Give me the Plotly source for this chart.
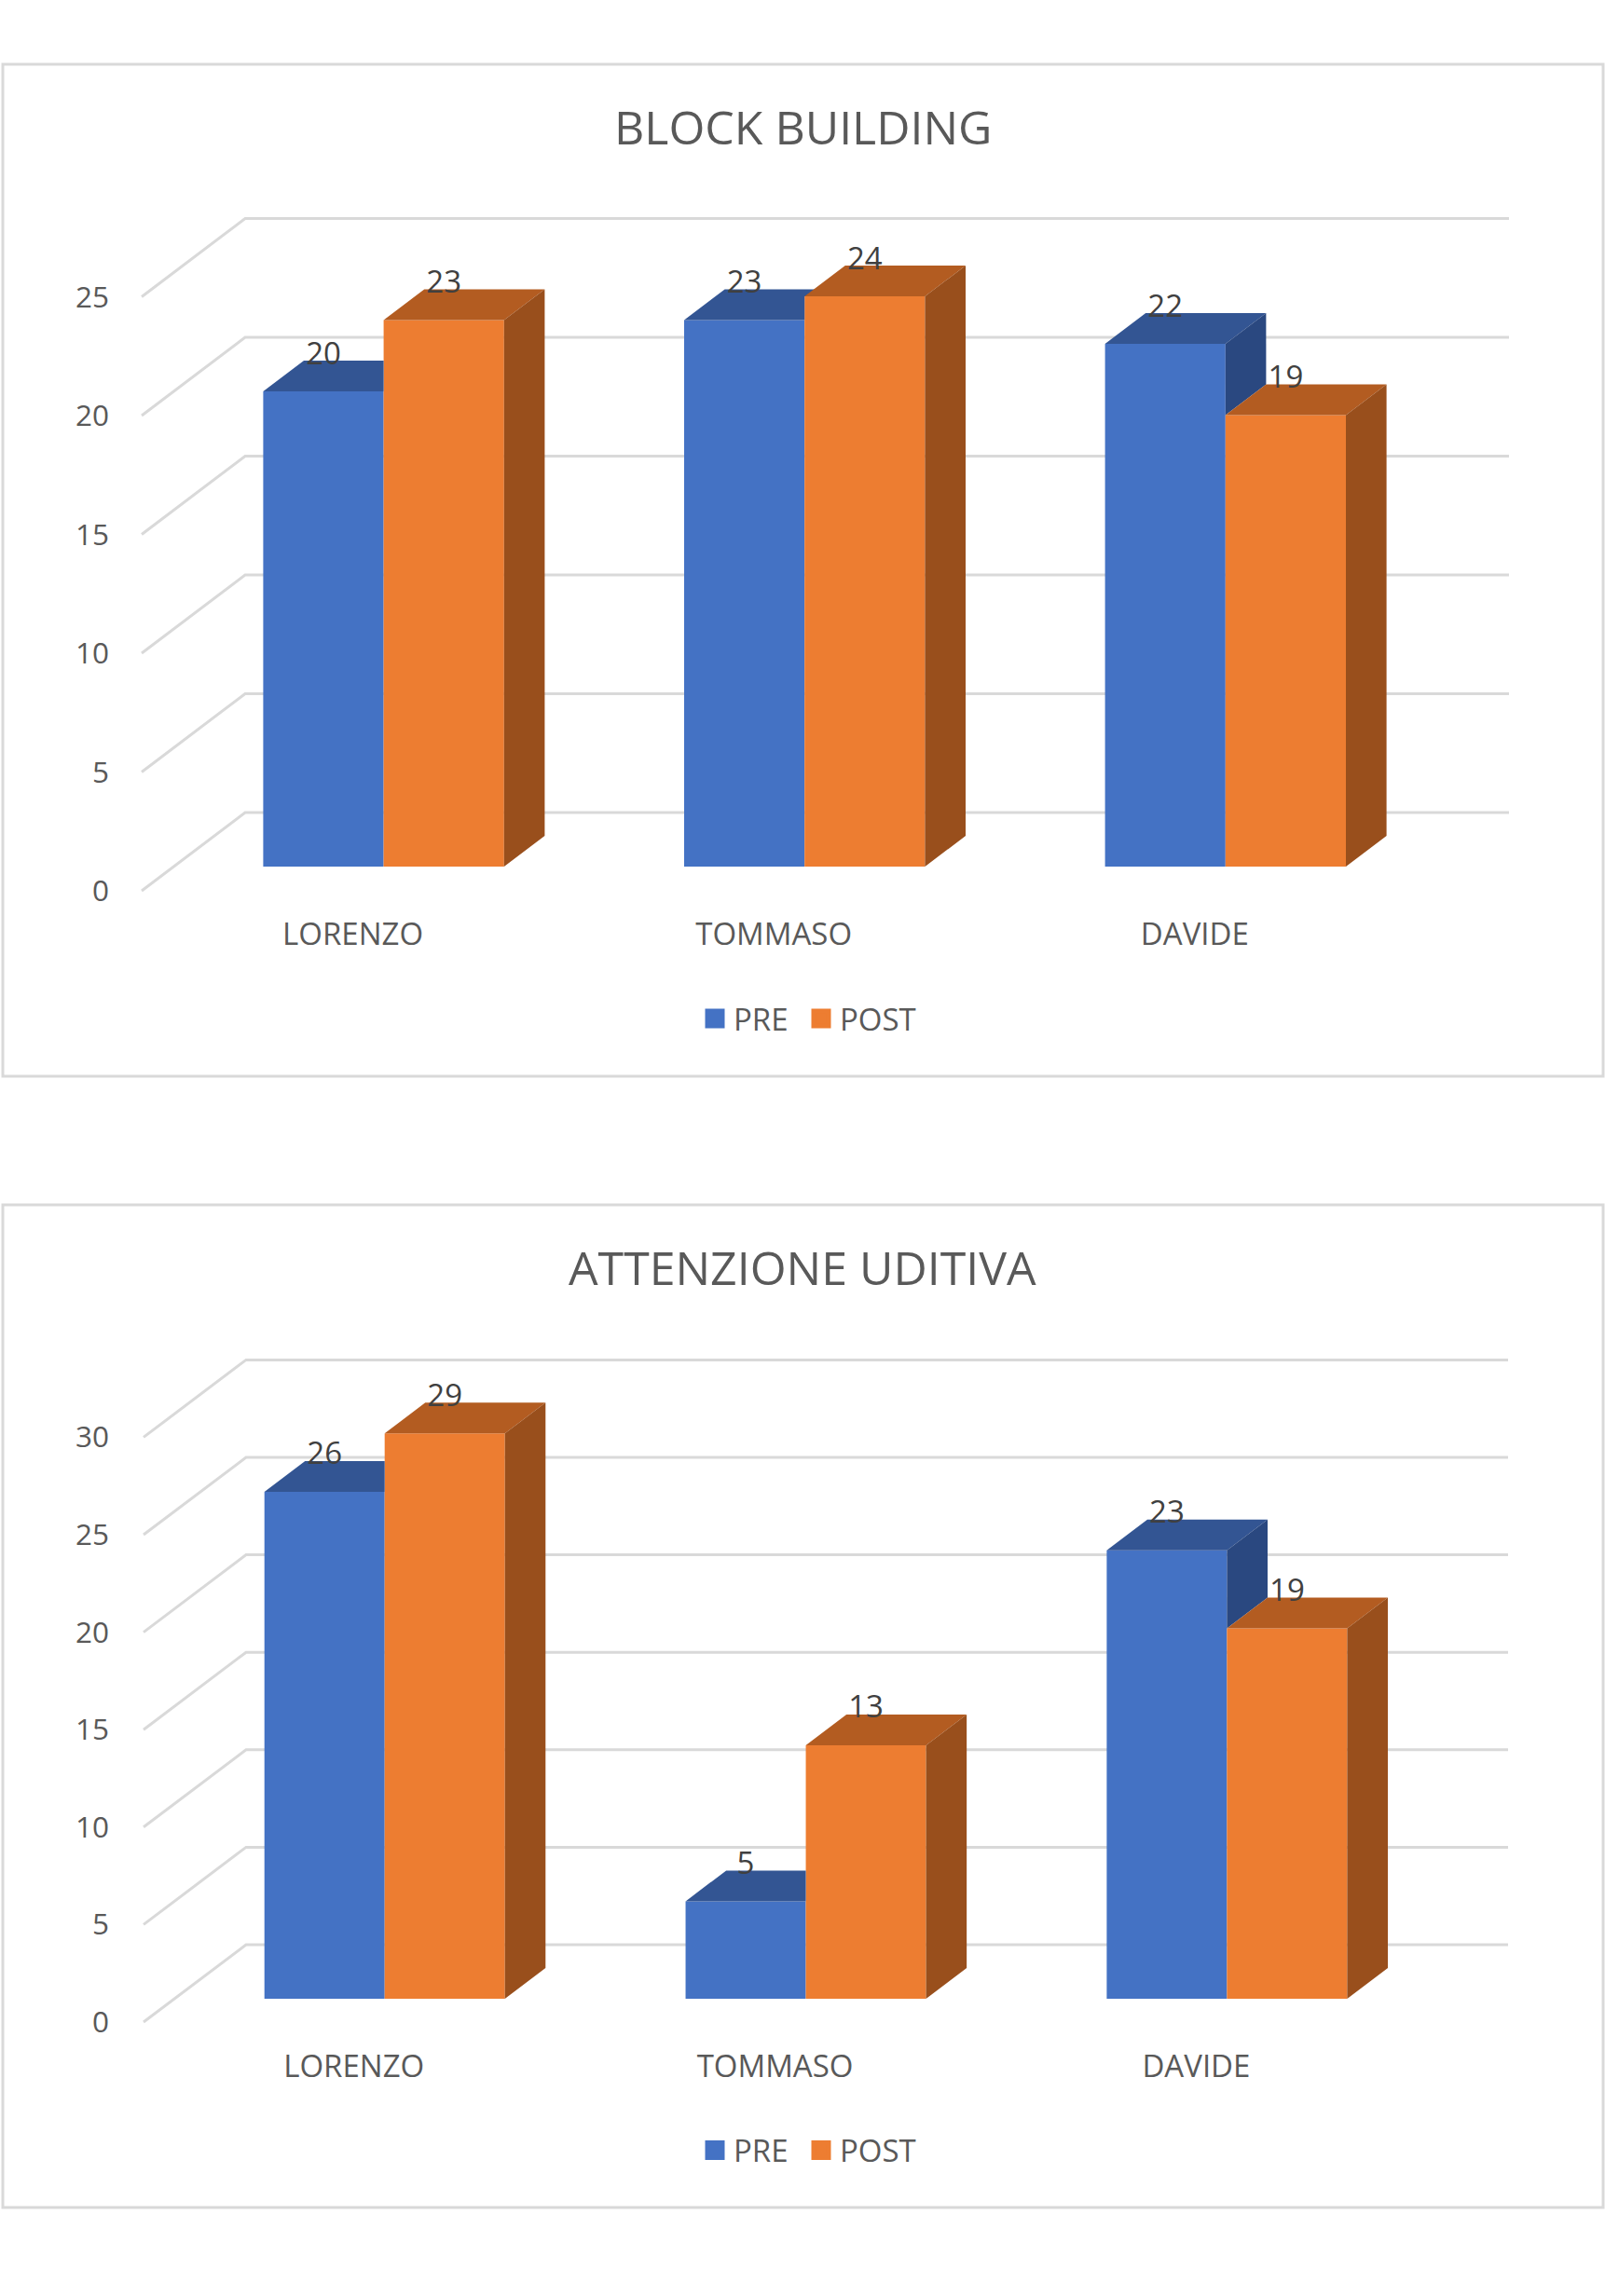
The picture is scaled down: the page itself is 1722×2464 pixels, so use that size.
import plotly.graph_objects as go

W, H = 1722, 2464
CATEGORIES = ["LORENZO", "TOMMASO", "DAVIDE"]
SERIES = ["PRE", "POST"]
TITLE_1 = "BLOCK BUILDING"
TITLE_2 = "ATTENZIONE UDITIVA"
PRE_1 = [20, 23, 22]
POST_1 = [23, 24, 19]
TICKS_1 = [0, 5, 10, 15, 20, 25]
PRE_2 = [26, 5, 23]
POST_2 = [29, 13, 19]
TICKS_2 = [0, 5, 10, 15, 20, 25, 30]

FONT = "Open Sans"
C_FRONT = ["#4472C4", "#ED7D31"]
C_TOP = ["#335593", "#B35C21"]
C_SIDE = ["#2A4880", "#994F1C"]
GRID = "#D9D9D9"
TXT = "#595959"
LBL = "#404040"

fig = go.Figure()
shapes, annotations = [], []
layout = {}


def panel(n, pre, post, ticks, title, g):
    sfx = "" if n == 1 else str(n)
    xa, ya = "x" + sfx, "y" + sfx
    scale = g["scale"]
    sp = g["spacing"]
    x_px = lambda p: (p - g["x0"]) / sp
    y_off = lambda p: (g["floor"] - p) / scale
    bw = g["bar"] / sp
    dx = g["depth_x"] / sp
    dy = g["depth_y"] / scale
    xs = list(range(len(CATEGORIES)))

    # frame
    shapes.append(dict(type="rect", xref="paper", yref="paper", layer="below",
                       x0=g["frame"][0] / W, x1=g["frame"][2] / W,
                       y0=1 - g["frame"][3] / H, y1=1 - g["frame"][1] / H,
                       line=dict(color=GRID, width=3), fillcolor="white"))
    # walls: one gridline per tick value
    fy = y_off(g["front0"])
    by = y_off(g["back0"])
    for t in ticks:
        shapes.append(dict(type="path", xref=xa, yref=ya, layer="below",
                           path=f"M{x_px(g['wall_l'])},{t + fy} L{x_px(g['wall_b'])},{t + by} "
                                f"L{x_px(g['wall_r'])},{t + by}",
                           line=dict(color=GRID, width=3)))

    # front faces
    for k, vals in enumerate((pre, post)):
        fig.add_trace(go.Bar(x=xs, y=vals, width=bw, offset=-bw if k == 0 else 0,
                             marker=dict(color=C_FRONT[k], line=dict(width=0)),
                             showlegend=False, hoverinfo="skip", xaxis=xa, yaxis=ya))

    # top and side faces, computed from the values
    top0, side0, top1, side1 = ([], []), ([], []), ([], []), ([], [])

    def add(buf, pts):
        for px_, py_ in pts + [pts[0]]:
            buf[0].append(px_)
            buf[1].append(py_)
        buf[0].append(None)
        buf[1].append(None)

    for i in xs:
        a, b = pre[i], post[i]
        l0, m, r1 = i - bw, i, i + bw
        if b > a:
            cut = min(b, a + dy)
            add(top0, [(l0, a), (m, a), (m, cut), (m + dx * (cut - a) / dy, cut),
                       (m + dx, a + dy), (l0 + dx, a + dy)])
        else:
            add(top0, [(l0, a), (m, a), (m + dx, a + dy), (l0 + dx, a + dy)])
            add(side0, [(m, a), (m + dx, a + dy), (m + dx, b + dy), (m, b)])
        add(top1, [(m, b), (r1, b), (r1 + dx, b + dy), (m + dx, b + dy)])
        add(side1, [(r1, 0), (r1 + dx, dy), (r1 + dx, b + dy), (r1, b)])

    for buf, col in ((top0, C_TOP[0]), (side0, C_SIDE[0]), (top1, C_TOP[1]), (side1, C_SIDE[1])):
        fig.add_trace(go.Scatter(x=buf[0], y=buf[1], mode="lines", fill="toself", fillcolor=col,
                                 line=dict(width=0, color=col), showlegend=False,
                                 hoverinfo="skip", xaxis=xa, yaxis=ya))

    # value labels
    lift = g["lift"] / scale
    for k, vals in enumerate((pre, post)):
        fig.add_trace(go.Scatter(x=[i + (k - 0.5) * bw for i in xs], y=[v + lift for v in vals],
                                 text=[str(v) for v in vals], mode="text",
                                 textposition="middle center",
                                 textfont=dict(family=FONT, size=g["fs_val"], color=LBL),
                                 showlegend=False, hoverinfo="skip", xaxis=xa, yaxis=ya))

    # legend entries: one legend box per series so each swatch sits at its own position
    for k, name in enumerate(SERIES):
        idx = 2 * n - 1 + k
        lg = "legend" + ("" if idx == 1 else str(idx))
        fig.add_trace(go.Scatter(x=[None], y=[None], name=name, mode="markers", legend=lg,
                                 marker=dict(symbol="square", size=16, color=C_FRONT[k],
                                             line=dict(width=5, color=C_FRONT[k])),
                                 xaxis=xa, yaxis=ya))
        layout[lg] = dict(
            orientation="h", x=g["leg_x"][k] / W, xanchor="left", y=1 - g["leg_y"] / H, yanchor="top",
            font=dict(family=FONT, size=g["fs_cat"], color=TXT), bgcolor="rgba(0,0,0,0)",
            itemclick=False, itemdoubleclick=False)

    # axes
    left, right, top, bottom = g["dom"]
    layout["xaxis" + sfx] = dict(
        domain=[left / W, right / W], anchor=ya, range=[x_px(left), x_px(right)],
        tickmode="array", tickvals=[i + g["cat_shift"] / sp for i in xs], ticktext=CATEGORIES,
        showgrid=False, zeroline=False, showline=False, ticks="",
        tickfont=dict(family=FONT, size=g["fs_cat"], color=TXT), fixedrange=True)
    layout["yaxis" + sfx] = dict(
        domain=[1 - bottom / H, 1 - top / H], anchor=xa, range=[y_off(bottom), y_off(top)],
        tickmode="array", tickvals=[t + fy for t in ticks], ticktext=[str(t) for t in ticks],
        showgrid=False, zeroline=False, showline=False, ticks="",
        tickfont=dict(family=FONT, size=g["fs_tick"], color=TXT), fixedrange=True)

    annotations.append(dict(text=title, xref="paper", yref="paper", x=g["title_x"] / W,
                            y=1 - g["title_y"] / H, xanchor="center", yanchor="middle",
                            showarrow=False, font=dict(family=FONT, size=g["title_fs"], color=TXT)))


panel(1, PRE_1, POST_1, TICKS_1, TITLE_1, dict(
    frame=(3, 69, 1720, 1155), dom=(118, 1640, 175, 980), scale=25.5, spacing=451.6, x0=411.6,
    floor=930, bar=129.2, depth_x=43.6, depth_y=33, front0=956, back0=872, wall_l=152, wall_b=263,
    wall_r=1619, lift=37.5, fs_cat=33, fs_tick=31.5, fs_val=33, title_fs=50, title_x=861, title_y=136,
    cat_shift=-33, leg_x=(747, 861), leg_y=1065))
panel(2, PRE_2, POST_2, TICKS_2, TITLE_2, dict(
    frame=(3, 1293, 1720, 2369), dom=(118, 1640, 1400, 2195), scale=20.92, spacing=451.85, x0=412.7,
    floor=2145, bar=129, depth_x=43.6, depth_y=33, front0=2170, back0=2087, wall_l=154, wall_b=264,
    wall_r=1618, lift=38, fs_cat=33, fs_tick=31.5, fs_val=33, title_fs=50, title_x=861, title_y=1360,
    cat_shift=-33, leg_x=(747, 861), leg_y=2279.5))

fig.update_layout(width=W, height=H, margin=dict(l=0, r=0, t=0, b=0), autosize=False,
                  paper_bgcolor="white", plot_bgcolor="rgba(0,0,0,0)", barmode="overlay",
                  shapes=shapes, annotations=annotations, **layout)
fig.write_html("out.html", config={"displayModeBar": False},
               post_script="document.body.style.margin='0';")
